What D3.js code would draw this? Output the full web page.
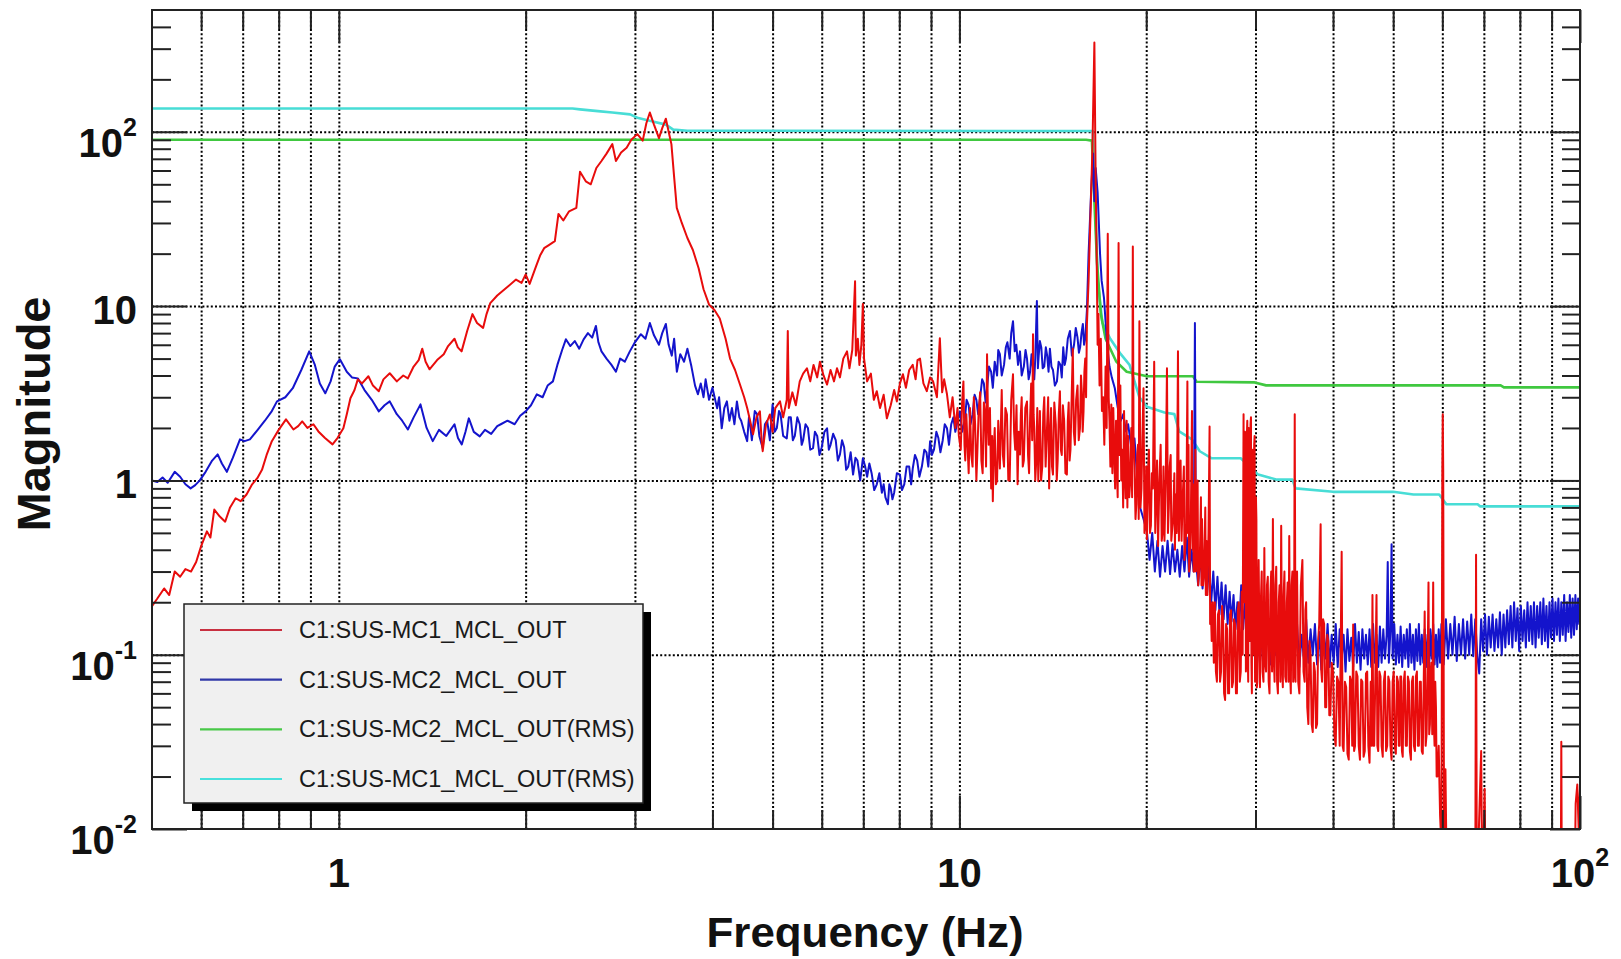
<!DOCTYPE html>
<html>
<head>
<meta charset="utf-8">
<script src="https://cdn.jsdelivr.net/npm/d3@7"></script>
<style>
body { margin: 0; background: #ffffff; }
svg { display: block; font-family: "Liberation Sans", Arial, Helvetica, sans-serif; }
</style>
</head>
<body>
<div id="chart"></div>
<script>
// values: [frequency (Hz), magnitude]
const mc1Out = [
    [0.5,0.19],[0.51,0.21],[0.523,0.24],[0.533,0.22],[0.544,0.3],[0.555,0.28],[0.566,0.31],[0.578,0.3],[0.589,0.34],
    [0.6,0.42],[0.613,0.51],[0.621,0.47],[0.63,0.68],[0.643,0.62],[0.656,0.58],[0.668,0.7],[0.682,0.79],[0.695,0.76],
    [0.71,0.83],[0.725,0.95],[0.739,1.03],[0.752,1.15],[0.765,1.4],[0.78,1.68],[0.8,1.95],[0.822,2.24],[0.845,1.96],
    [0.86,2.05],[0.873,2.18],[0.89,2.0],[0.91,2.1],[0.927,1.91],[0.95,1.75],[0.977,1.61],[0.995,1.75],[1.017,1.99],
    [1.03,2.4],[1.044,2.96],[1.06,3.3],[1.073,3.8],[1.09,3.6],[1.116,3.96],[1.135,3.5],[1.16,3.25],[1.18,3.8],
    [1.208,4.12],[1.24,3.7],[1.27,4.0],[1.292,3.85],[1.32,4.5],[1.345,4.9],[1.363,5.7],[1.38,4.8],[1.4,4.34],
    [1.44,4.9],[1.476,5.3],[1.5,5.9],[1.536,6.5],[1.555,5.8],[1.577,5.5],[1.61,7.2],[1.642,9.0],[1.67,8.0],
    [1.708,7.5],[1.73,9.0],[1.754,10.4],[1.8,11.5],[1.84,12.3],[1.875,13.0],[1.93,14.2],[1.97,13.6],[2.0,15.2],
    [2.03,13.4],[2.08,17.0],[2.11,19.5],[2.142,21.5],[2.18,22.4],[2.229,23.6],[2.259,33.8],[2.3,31],[2.35,35],
    [2.414,36.6],[2.447,59],[2.5,52],[2.547,50],[2.6,62],[2.65,68],[2.7,75],[2.759,85],[2.796,68],[2.85,76],
    [2.909,81],[2.96,90],[3.027,97],[3.088,89],[3.13,112],[3.171,129],[3.22,110],[3.28,92],[3.32,105],[3.365,119],
    [3.4,100],[3.435,85],[3.47,55],[3.504,36.6],[3.57,30],[3.645,24.6],[3.72,21],[3.8,16.5],[3.87,12.5],[3.95,10.2],
    [4.03,9.5],[4.11,8.5],[4.2,6.5],[4.27,5.0],[4.35,4.3],[4.43,3.55],[4.5,3.0],[4.55,2.6],[4.6,2.2],[4.65,1.84],
    [4.71,2.3],[4.77,2.49],[4.8,1.7],[4.82,1.47],[4.88,2.1],[4.95,2.39],[5.0,1.9],[5.05,2.6],[5.14,2.84],[5.2,2.3],
    [5.27,2.9],[5.29,7.2],[5.31,2.6],[5.38,3.2],[5.45,2.7],[5.53,3.7],[5.6,4.1],[5.68,4.4],[5.75,3.7],[5.82,4.6],
    [5.9,3.9],[5.96,4.8],[6.04,4.0],[6.12,3.55],[6.2,4.3],[6.28,3.7],[6.35,4.4],[6.42,3.9],[6.5,5.0],[6.59,5.5],
    [6.65,4.4],[6.72,5.6],[6.79,13.9],[6.81,5.2],[6.86,6.5],[6.9,4.6],[6.95,6.0],[6.99,10.3],[7.02,5.0],[7.1,3.7],
    [7.2,4.1],[7.28,2.9],[7.36,3.25],[7.45,2.6],[7.55,3.1],[7.64,2.27],[7.75,2.7],[7.85,3.3],[7.93,2.84],[8.02,3.6],
    [8.11,4.07],[8.2,3.4],[8.3,4.3],[8.41,4.6],[8.5,3.8],[8.56,4.9],[8.64,5.0],[8.75,3.6],[8.86,3.25],[8.97,3.9],
    [9.07,3.7],[9.2,3.0],[9.3,6.55],[9.38,3.2],[9.45,3.8],[9.55,3.12],[9.65,2.3],[9.75,3.0],[9.85,2.0],[9.93,2.6],
    [9.98,1.8],[10.05,1.5],[10.1,2.8],[10.15,3.7],[10.19,1.6],[10.22,1.3],[10.26,2.4],[10.3,1.68],[10.35,1.1],
    [10.4,2.6],[10.45,1.4],[10.5,1.2],[10.55,3.0],[10.6,2.1],[10.65,1.0],[10.69,1.47],[10.74,2.5],[10.8,3.2],
    [10.85,1.3],[10.9,1.1],[10.95,2.8],[11.0,2.4],[11.04,1.2],[11.08,5.3],[11.12,2.2],[11.15,1.6],[11.2,2.6],
    [11.25,0.9],[11.29,1.8],[11.32,0.76],[11.36,1.5],[11.4,2.0],[11.45,0.95],[11.5,1.0],[11.55,2.2],[11.62,1.17],
    [11.66,2.0],[11.7,3.3],[11.75,1.4],[11.8,1.2],[11.86,2.6],[11.93,2.39],[11.99,1.0],[12.05,1.0],[12.12,2.9],
    [12.2,4.07],[12.25,1.9],[12.3,1.5],[12.36,2.7],[12.41,0.95],[12.46,1.9],[12.52,1.41],[12.56,2.4],[12.6,3.0],
    [12.65,1.2],[12.7,1.3],[12.77,2.6],[12.85,2.84],[12.9,1.4],[12.95,1.1],[13.0,2.3],[13.05,3.6],[13.1,1.7],
    [13.14,6.9],[13.17,2.4],[13.2,2.0],[13.25,1.0],[13.3,1.3],[13.35,2.6],[13.4,0.99],[13.44,1.6],[13.48,2.5],
    [13.54,1.0],[13.6,1.2],[13.65,2.4],[13.7,3.0],[13.77,1.2],[13.84,1.99],[13.9,3.0],[13.95,0.9],[14.0,1.8],
    [14.05,2.6],[14.1,1.2],[14.15,1.08],[14.22,2.8],[14.3,2.1],[14.35,1.0],[14.4,1.3],[14.46,2.4],[14.52,3.25],
    [14.57,1.5],[14.62,1.4],[14.68,2.7],[14.75,2.2],[14.82,1.1],[14.9,1.08],[14.95,2.2],[15.0,2.8],[15.05,1.3],
    [15.1,1.5],[15.17,3.1],[15.23,5.7],[15.29,1.9],[15.35,1.6],[15.42,2.9],[15.5,3.5],[15.57,1.7],[15.64,1.99],
    [15.7,4.0],[15.75,3.2],[15.8,1.9],[15.85,2.5],[15.9,4.2],[15.95,5.0],[16.0,3.0],[16.05,7.9],[16.15,14],
    [16.25,30],[16.38,80],[16.5,325],[16.58,52],[16.64,20],[16.7,6],[16.75,9],[16.82,3.5],[16.9,6.5],[16.97,2.5],
    [17.05,3.0],[17.12,1.6],[17.2,4.5],[17.27,2.0],[17.34,26],[17.4,3.0],[17.45,2.2],[17.51,1.2],[17.57,2.73],
    [17.64,1.1],[17.7,2.6],[17.75,1.6],[17.82,0.9],[17.88,2.2],[17.93,1.24],[17.99,0.8],[18.05,23],[18.1,1.4],
    [18.17,3.5],[18.23,1.0],[18.3,1.5],[18.36,0.7],[18.42,2.5],[18.48,1.1],[18.53,0.79],[18.6,2.2],[18.65,0.7],
    [18.7,1.8],[18.78,0.8],[18.85,1.0],[18.92,2.0],[18.98,0.8],[19.03,22],[19.08,1.8],[19.15,1.2],[19.22,0.6],
    [19.28,0.73],[19.34,1.4],[19.4,1.6],[19.45,0.6],[19.5,8.2],[19.58,0.7],[19.65,0.9],[19.72,1.8],[19.8,3.38],
    [19.87,0.5],[19.95,0.6],[20.0,1.2],[20.05,0.46],[20.15,1.2],[20.2,1.5],[20.28,0.5],[20.35,0.55],[20.42,1.1],
    [20.5,0.9],[20.6,4.8],[20.68,0.5],[20.75,0.8],[20.82,1.3],[20.9,0.42],[21.0,1.0],[21.1,1.6],[21.18,0.45],
    [21.25,0.5],[21.32,1.2],[21.4,0.45],[21.5,1.0],[21.6,4.4],[21.68,0.5],[21.75,0.7],[21.82,1.2],[21.9,1.4],
    [21.95,0.45],[22.0,0.5],[22.1,0.6],[22.2,1.1],[22.25,0.4],[22.3,0.83],[22.4,0.5],[22.5,5.5],[22.58,0.45],
    [22.65,0.9],[22.72,1.3],[22.8,0.45],[22.9,0.8],[23.0,1.2],[23.05,0.35],[23.1,0.4],[23.2,0.51],[23.3,3.7],
    [23.35,0.5],[23.4,1.6],[23.45,0.3],[23.5,0.35],[23.6,0.6],[23.7,2.5],[23.75,0.4],[23.8,0.95],[23.85,0.3],
    [23.9,0.3],[24.0,1.5],[24.05,0.3],[24.1,0.4],[24.2,1.0],[24.25,0.25],[24.3,0.28],[24.4,0.35],[24.5,0.8],
    [24.55,0.25],[24.6,0.6],[24.7,0.25],[24.8,0.3],[24.9,0.7],[24.95,0.22],[25.0,0.45],[25.1,0.22],[25.2,0.5],
    [25.3,2.04],[25.35,0.15],[25.4,0.2],[25.5,0.12],[25.6,0.2],[25.7,0.09],[25.8,0.2],[25.9,0.08],[26.0,0.07],
    [26.1,0.17],[26.2,0.18],[26.3,0.07],[26.4,0.08],[26.5,0.19],[26.6,0.16],[26.7,0.06],[26.8,0.055],[26.9,0.15],
    [27.0,0.14],[27.1,0.06],[27.2,0.06],[27.3,0.17],[27.4,0.18],[27.5,0.065],[27.6,0.07],[27.7,0.16],[27.8,0.15],
    [27.9,0.06],[28.0,0.06],[28.1,0.18],[28.2,0.2],[28.3,0.07],[28.4,0.08],[28.5,0.23],[28.6,0.1],[28.7,2.4],
    [28.75,0.2],[28.8,0.3],[28.85,1.9],[28.9,1.6],[28.95,0.08],[29.0,0.1],[29.05,1.8],[29.1,2.2],[29.15,0.1],
    [29.2,0.07],[29.25,2.0],[29.3,1.9],[29.35,0.12],[29.4,0.2],[29.45,2.1],[29.5,2.3],[29.55,0.09],[29.6,0.06],
    [29.65,1.5],[29.7,1.2],[29.75,0.1],[29.8,0.3],[29.85,1.6],[29.9,1.8],[29.95,0.07],[30.0,0.08],[30.05,0.8],
    [30.1,0.6],[30.15,0.065],[30.2,0.07],[30.35,0.35],[30.5,0.065],[30.6,0.2],[30.7,0.3],[30.8,0.08],[30.9,0.07],
    [31.0,0.41],[31.1,0.09],[31.2,0.08],[31.3,0.25],[31.4,0.28],[31.5,0.07],[31.6,0.06],[31.7,0.22],[31.8,0.3],
    [31.9,0.08],[32.0,0.6],[32.1,0.1],[32.2,0.07],[32.3,0.25],[32.4,0.32],[32.5,0.07],[32.6,0.06],[32.7,0.2],
    [32.8,0.25],[32.9,0.07],[33.0,0.55],[33.1,0.09],[33.2,0.065],[33.3,0.22],[33.4,0.3],[33.5,0.075],[33.6,0.07],
    [33.7,0.2],[33.8,0.26],[33.9,0.07],[34.0,0.48],[34.1,0.08],[34.2,0.06],[34.3,0.25],[34.4,0.3],[34.5,0.07],
    [34.6,0.08],[34.7,2.4],[34.8,0.07],[34.9,0.2],[35.0,0.3],[35.15,0.07],[35.3,0.06],[35.5,0.25],[35.7,0.35],
    [35.85,0.08],[36.0,0.07],[36.1,0.18],[36.2,0.2],[36.35,0.05],[36.5,0.04],[36.65,0.12],[36.8,0.1],[36.95,0.04],
    [37.1,0.036],[37.25,0.09],[37.4,0.08],[37.55,0.038],[37.7,0.04],[37.85,0.12],[38.0,0.15],[38.2,0.56],[38.3,0.08],
    [38.4,0.07],[38.55,0.16],[38.7,0.15],[38.85,0.05],[39.0,0.05],[39.15,0.13],[39.3,0.12],[39.45,0.045],[39.6,0.045],
    [39.8,0.09],[40.0,0.08],[40.2,0.035],[40.4,0.03],[40.6,0.075],[40.8,0.07],[41.0,0.03],[41.3,0.39],[41.45,0.03],
    [41.6,0.028],[41.8,0.07],[42.0,0.065],[42.2,0.027],[42.4,0.025],[42.6,0.075],[42.8,0.07],[42.95,0.03],[43.1,0.149],
    [43.25,0.028],[43.4,0.03],[43.6,0.08],[43.8,0.075],[44.0,0.03],[44.2,0.025],[44.4,0.072],[44.6,0.07],[44.8,0.026],
    [45.0,0.028],[45.2,0.078],[45.4,0.08],[45.6,0.03],[45.8,0.024],[46.0,0.07],[46.15,0.03],[46.3,0.22],[46.45,0.03],
    [46.6,0.03],[46.8,0.075],[47.0,0.22],[47.15,0.03],[47.3,0.028],[47.5,0.08],[47.7,0.075],[47.9,0.03],[48.1,0.026],
    [48.3,0.07],[48.5,0.08],[48.7,0.028],[48.9,0.03],[49.1,0.075],[49.3,0.07],[49.5,0.03],[49.7,0.025],[49.9,0.07],
    [50.1,0.08],[50.3,0.03],[50.5,0.027],[50.7,0.075],[50.9,0.07],[51.05,0.03],[51.2,0.03],[51.35,0.075],[51.5,0.075],
    [51.65,0.028],[51.8,0.026],[52.0,0.07],[52.2,0.08],[52.4,0.03],[52.6,0.03],[52.8,0.075],[53.0,0.07],[53.2,0.028],
    [53.4,0.025],[53.6,0.07],[53.8,0.075],[54.0,0.03],[54.2,0.028],[54.4,0.075],[54.6,0.08],[54.8,0.03],[55.0,0.03],
    [55.2,0.07],[55.4,0.07],[55.6,0.028],[55.8,0.027],[56.0,0.07],[56.2,0.177],[56.4,0.03],[56.6,0.035],[56.8,0.08],
    [57.0,0.26],[57.15,0.035],[57.3,0.04],[57.45,0.08],[57.6,0.09],[57.8,0.035],[58.0,0.26],[58.15,0.04],[58.3,0.03],
    [58.45,0.07],[58.6,0.05],[58.75,0.02],[58.9,0.02],[59.2,0.03],[59.5,0.012],[59.8,0.008],[60.0,1.16],[60.1,2.4],
    [60.2,1.16],[60.4,0.006],[60.7,0.022],[61.0,0.005],[67.8,0.004],[68.0,0.375],[68.2,0.004],[69.3,0.028],
    [69.6,0.004],[70.2,0.017],[70.5,0.004],[93.1,0.004],[93.3,0.0317],[93.5,0.004],[98.0,0.004],[98.4,0.014],
    [99.0,0.018],[99.5,0.01],[100,0.017]
];

const mc2Out = [
    [0.5,1.0],[0.51,0.98],[0.52,1.04],[0.53,0.97],[0.544,1.12],[0.555,1.05],[0.566,0.95],[0.577,0.9],[0.587,0.94],
    [0.597,1.0],[0.61,1.12],[0.625,1.3],[0.638,1.41],[0.648,1.25],[0.66,1.12],[0.675,1.35],[0.693,1.72],[0.705,1.68],
    [0.719,1.72],[0.74,1.95],[0.76,2.2],[0.78,2.5],[0.795,2.84],[0.82,3.0],[0.843,3.38],[0.87,4.3],[0.896,5.5],
    [0.915,4.6],[0.932,3.6],[0.951,3.16],[0.97,3.7],[0.985,4.5],[1.004,4.96],[1.03,4.2],[1.05,3.9],[1.073,3.85],
    [1.1,3.3],[1.13,2.9],[1.16,2.49],[1.185,2.7],[1.208,2.84],[1.24,2.4],[1.265,2.2],[1.292,1.96],[1.32,2.3],
    [1.354,2.73],[1.385,2.0],[1.417,1.68],[1.45,1.95],[1.49,1.8],[1.536,2.1],[1.556,1.75],[1.578,1.61],[1.6,1.9],
    [1.62,2.27],[1.65,1.9],[1.687,1.79],[1.72,1.95],[1.76,1.85],[1.8,2.05],[1.824,2.1],[1.87,2.2],[1.92,2.1],
    [1.96,2.35],[2.0,2.49],[2.04,2.7],[2.085,3.12],[2.13,3.0],[2.17,3.5],[2.213,3.7],[2.25,4.6],[2.29,5.6],
    [2.322,6.45],[2.36,5.9],[2.4,6.3],[2.44,5.7],[2.48,6.45],[2.52,7.0],[2.56,6.6],[2.596,7.7],[2.62,6.2],
    [2.65,5.5],[2.7,5.0],[2.75,4.6],[2.796,4.2],[2.84,5.0],[2.89,4.8],[2.944,5.5],[3.0,6.2],[3.067,6.9],[3.12,6.5],
    [3.171,8.0],[3.22,6.8],[3.28,6.0],[3.32,7.0],[3.365,7.9],[3.4,6.0],[3.44,5.2],[3.47,6.5],[3.505,4.2],[3.55,5.3],
    [3.6,4.8],[3.645,5.7],[3.7,4.5],[3.75,3.5],[3.79,3.12],[3.83,3.6],[3.87,3.0],[3.9,3.8],[3.95,2.9],[4.0,3.4],
    [4.07,2.59],[4.1,3.0],[4.14,1.99],[4.18,2.6],[4.22,2.84],[4.26,2.2],[4.3,2.6],[4.34,2.1],[4.38,2.84],[4.42,2.3],
    [4.45,2.2],[4.5,1.9],[4.55,1.68],[4.58,2.3],[4.6,2.1],[4.63,1.7],[4.65,1.99],[4.68,2.5],[4.72,2.4],[4.76,1.8],
    [4.82,1.53],[4.86,2.1],[4.9,2.2],[4.95,1.7],[5.0,2.73],[5.04,1.9],[5.08,2.0],[5.12,2.5],[5.15,2.4],[5.2,1.8],
    [5.27,1.74],[5.31,2.3],[5.35,2.3],[5.39,1.7],[5.43,1.8],[5.48,2.3],[5.53,2.1],[5.57,1.6],[5.6,1.7],[5.65,2.1],
    [5.7,2.0],[5.75,1.5],[5.81,1.53],[5.85,1.9],[5.9,1.8],[5.95,1.4],[6.0,1.55],[6.06,1.9],[6.12,1.99],[6.16,1.5],
    [6.2,1.6],[6.26,1.85],[6.32,1.7],[6.37,1.3],[6.42,1.41],[6.47,1.7],[6.52,1.55],[6.57,1.15],[6.62,1.2],[6.68,1.45],
    [6.74,1.08],[6.8,1.35],[6.85,1.3],[6.92,1.0],[6.99,1.34],[7.05,1.2],[7.1,1.05],[7.16,1.25],[7.22,1.1],[7.29,0.88],
    [7.36,0.95],[7.43,1.1],[7.5,0.85],[7.55,0.95],[7.6,0.8],[7.67,0.73],[7.71,0.95],[7.75,0.9],[7.8,0.78],[7.85,0.85],
    [7.93,1.1],[8.02,1.08],[8.08,0.88],[8.15,0.95],[8.22,1.2],[8.3,1.2],[8.36,0.95],[8.41,1.17],[8.48,1.4],[8.55,1.3],
    [8.62,1.05],[8.7,1.2],[8.78,1.5],[8.85,1.45],[8.91,1.2],[8.97,1.68],[9.03,1.4],[9.1,1.5],[9.18,1.9],[9.25,1.75],
    [9.32,1.45],[9.4,1.7],[9.47,2.1],[9.55,1.99],[9.62,1.6],[9.7,2.1],[9.78,2.3],[9.85,1.9],[9.93,2.2],[10.02,2.49],
    [10.1,1.9],[10.2,2.2],[10.27,2.9],[10.35,2.7],[10.42,2.1],[10.5,2.39],[10.58,3.1],[10.65,2.9],[10.72,2.4],
    [10.8,3.0],[10.88,3.8],[10.95,3.6],[11.02,2.8],[11.08,3.38],[11.16,4.5],[11.25,4.2],[11.32,3.4],[11.4,4.8],
    [11.5,4.0],[11.55,5.6],[11.62,5.3],[11.7,4.0],[11.8,4.6],[11.88,5.8],[11.95,6.2],[12.05,5.0],[12.12,7.0],
    [12.2,8.2],[12.28,5.5],[12.35,6.0],[12.43,4.6],[12.52,5.5],[12.6,4.0],[12.7,4.5],[12.78,5.6],[12.85,5.0],
    [12.93,3.8],[13.0,4.2],[13.07,5.3],[13.14,4.4],[13.2,3.8],[13.25,5.0],[13.33,10.7],[13.38,4.4],[13.42,5.2],
    [13.48,6.3],[13.55,5.8],[13.62,4.4],[13.7,4.5],[13.78,5.8],[13.85,5.2],[13.92,4.2],[13.99,5.7],[14.07,4.5],
    [14.15,4.3],[14.25,3.5],[14.36,3.7],[14.45,4.8],[14.55,4.6],[14.62,3.9],[14.7,5.8],[14.78,4.6],[14.85,5.0],
    [14.95,6.5],[15.07,7.2],[15.18,5.2],[15.3,6.0],[15.4,7.5],[15.5,6.6],[15.58,5.4],[15.65,5.8],[15.73,7.0],
    [15.81,7.9],[15.88,6.0],[15.95,6.5],[16.05,9.5],[16.15,20],[16.3,45],[16.42,75],[16.5,40],[16.58,62],
    [16.7,45],[16.85,20],[16.95,14],[17.1,11.1],[17.3,6.0],[17.45,4.5],[17.6,3.9],[17.8,3.38],[18.0,2.6],
    [18.2,2.2],[18.37,2.4],[18.55,1.91],[18.7,2.1],[18.9,1.6],[19.15,1.74],[19.35,1.0],[19.55,0.7],[19.8,0.6],
    [20.05,0.51],[20.25,0.35],[20.45,0.5],[20.65,0.3],[20.85,0.45],[21.05,0.28],[21.25,0.42],[21.45,0.3],
    [21.65,0.45],[21.85,0.29],[22.05,0.43],[22.25,0.3],[22.45,0.4],[22.65,0.28],[22.85,0.42],[23.05,0.3],
    [23.25,0.47],[23.45,0.28],[23.65,0.4],[23.85,0.3],[23.96,8.0],[24.05,0.35],[24.25,0.25],[24.45,0.38],
    [24.65,0.24],[24.85,0.35],[25.05,0.22],[25.25,0.32],[25.45,0.2],[25.65,0.3],[25.85,0.18],[26.05,0.28],
    [26.25,0.17],[26.45,0.26],[26.65,0.16],[26.85,0.25],[27.05,0.15],[27.25,0.23],[27.45,0.155],[27.65,0.22],
    [27.85,0.14],[28.05,0.2],[28.25,0.15],[28.45,0.25],[28.65,0.14],[28.85,0.2],[29.05,0.13],[29.25,0.19],
    [29.45,0.12],[29.65,0.18],[29.85,0.11],[30.05,0.16],[30.2,0.17],[30.5,0.09],[30.8,0.15],[31.1,0.1],
    [31.4,0.16],[31.7,0.088],[32.0,0.14],[32.3,0.1],[32.6,0.155],[32.9,0.092],[33.2,0.13],[33.5,0.098],[33.8,0.17],
    [34.1,0.09],[34.4,0.145],[34.7,0.1],[35.0,0.15],[35.3,0.085],[35.6,0.13],[35.9,0.095],[36.2,0.16],[36.5,0.09],
    [36.8,0.14],[37.1,0.1],[37.4,0.15],[37.7,0.088],[38.0,0.135],[38.3,0.082],[38.6,0.14],[38.9,0.095],[39.2,0.15],
    [39.5,0.085],[39.8,0.13],[40.1,0.09],[40.4,0.15],[40.7,0.085],[41.0,0.14],[41.3,0.095],[41.6,0.13],[41.9,0.08],
    [42.2,0.14],[42.5,0.092],[42.8,0.125],[43.1,0.085],[43.4,0.15],[43.7,0.09],[44.0,0.135],[44.3,0.082],[44.6,0.14],
    [44.9,0.095],[45.2,0.13],[45.5,0.088],[45.8,0.14],[46.1,0.085],[46.4,0.15],[46.7,0.09],[47.0,0.13],[47.3,0.085],
    [47.6,0.145],[47.9,0.09],[48.2,0.14],[48.5,0.095],[48.8,0.13],[49.0,0.34],[49.2,0.09],[49.5,0.14],[49.7,0.43],
    [49.9,0.095],[50.2,0.15],[50.5,0.088],[50.8,0.13],[51.1,0.09],[51.4,0.145],[51.7,0.085],[52.0,0.13],[52.3,0.095],
    [52.6,0.14],[52.9,0.085],[53.2,0.15],[53.5,0.09],[53.8,0.13],[54.1,0.082],[54.4,0.14],[54.7,0.092],[55.0,0.15],
    [55.3,0.088],[55.6,0.13],[55.9,0.09],[56.2,0.14],[56.5,0.085],[56.8,0.13],[57.1,0.08],[57.4,0.14],[57.7,0.095],
    [58.0,0.15],[58.3,0.088],[58.6,0.13],[58.9,0.085],[59.2,0.14],[59.5,0.09],[59.8,0.15],[60.3,0.088],[60.8,0.16],
    [61.3,0.095],[61.8,0.15],[62.3,0.1],[62.8,0.165],[63.3,0.092],[63.8,0.15],[64.3,0.1],[64.8,0.16],[65.3,0.095],
    [65.8,0.155],[66.3,0.1],[66.8,0.17],[67.3,0.098],[67.8,0.16],[68.3,0.1],[68.8,0.078],[69.3,0.16],[69.8,0.105],
    [70.3,0.17],[70.8,0.1],[71.3,0.165],[71.8,0.11],[72.3,0.17],[72.8,0.105],[73.3,0.16],[73.8,0.11],[74.3,0.175],
    [74.8,0.1],[75.3,0.17],[75.8,0.11],[76.3,0.18],[76.8,0.115],[77.3,0.19],[77.8,0.11],[78.3,0.2],[78.8,0.12],
    [79.3,0.185],[79.8,0.105],[80.3,0.19],[80.8,0.12],[81.3,0.18],[81.8,0.11],[82.3,0.2],[82.8,0.12],[83.3,0.19],
    [83.8,0.115],[84.3,0.2],[84.8,0.11],[85.3,0.19],[85.8,0.125],[86.3,0.2],[86.8,0.115],[87.3,0.21],[87.8,0.12],
    [88.3,0.19],[88.8,0.11],[89.3,0.2],[89.8,0.125],[90.3,0.21],[90.8,0.12],[91.3,0.2],[91.8,0.13],[92.3,0.21],
    [92.8,0.12],[93.3,0.2],[93.8,0.13],[94.3,0.22],[94.8,0.12],[95.3,0.2],[95.8,0.135],[96.3,0.22],[96.8,0.125],
    [97.3,0.21],[97.8,0.13],[98.3,0.22],[98.8,0.14],[99.3,0.21],[99.7,0.15],[100,0.19]
];

const mc2Rms = [
    [0.5,90],[16.0,90],[16.35,89],[16.5,40],[16.66,18],[16.9,9],[17.2,6.5],[17.9,4.8],[18.6,4.2],[20.05,3.96],
    [23.8,3.96],[24.1,3.68],[29.9,3.65],[31.2,3.51],[74.5,3.51],[75.4,3.42],[100,3.42]
];

const mc1Rms = [
    [0.5,136],[2.38,136],[2.447,134.6],[2.615,131.5],[2.759,129],[2.948,126],[3.027,120.5],[3.193,115],[3.365,110],
    [3.458,103],[3.645,101.5],[16.4,101],[16.5,60],[16.7,14],[17.0,8],[17.5,6.5],[18.2,5.3],[18.8,4.6],
    [19.5,3.0],[20.05,2.65],[21.4,2.45],[22.2,2.4],[22.6,1.91],[23.7,1.72],[24.4,1.47],[25.5,1.34],[28.4,1.34],
    [30.3,1.08],[32.5,1.01],[34.4,1.01],[34.8,0.9],[40,0.86],[50,0.86],[53.9,0.83],[59.3,0.83],[60.9,0.73],
    [68.4,0.73],[69,0.71],[100,0.71]
];

const legendLabels = ["C1:SUS-MC1_MCL_OUT", "C1:SUS-MC2_MCL_OUT", "C1:SUS-MC2_MCL_OUT(RMS)", "C1:SUS-MC1_MCL_OUT(RMS)"];

const xMajorTicks = [1, 10, 100];
const xMinorTicks = [0.6, 0.7, 0.8, 0.9, 2, 3, 4, 5, 6, 7, 8, 9, 20, 30, 40, 50, 60, 70, 80, 90];
const xTickLabels = [["1", ""], ["10", ""], ["10", "2"]];
const yMajorTicks = [100, 10, 1, 0.1, 0.01];
const yMinorTicks = [0.02, 0.03, 0.04, 0.05, 0.06, 0.07, 0.08, 0.09, 0.2, 0.3, 0.4, 0.5, 0.6, 0.7, 0.8, 0.9,
    2, 3, 4, 5, 6, 7, 8, 9, 20, 30, 40, 50, 60, 70, 80, 90, 200, 300, 400];
const yTickLabels = [["10", "2"], ["10", ""], ["1", ""], ["10", "-1"], ["10", "-2"]];

function main() {
    let width = 1621;
    let height = 959;
    let left = 152, right = 1580, top = 10, bottom = 829;

    let svg = d3.select("#chart").append("svg")
        .attr("width", width)
        .attr("height", height);

    let xScale = d3.scaleLog().domain([0.5, 100]).range([left, right]);
    let yScale = d3.scaleLog().domain([0.01, 500]).range([bottom, top]);

    // dotted grid
    let gridX = svg.append("g")
        .attr("transform", "translate(0," + bottom + ")")
        .call(d3.axisBottom(xScale).tickValues(xMinorTicks.concat([1, 10])).tickSize(-(bottom - top)).tickFormat(""));
    let gridY = svg.append("g")
        .attr("transform", "translate(" + left + ",0)")
        .call(d3.axisLeft(yScale).tickValues([100, 10, 1, 0.1]).tickSize(-(right - left)).tickFormat(""));
    [gridX, gridY].forEach(function(g) {
        g.select(".domain").remove();
        g.selectAll("line")
            .attr("stroke", "#000")
            .attr("stroke-width", 2)
            .attr("stroke-dasharray", "2,2.2");
    });

    svg.append("clipPath").attr("id", "plotclip")
        .append("rect")
        .attr("x", left).attr("y", top)
        .attr("width", right - left).attr("height", bottom - top);

    let line = d3.line()
        .x(function(d) { return xScale(d[0]); })
        .y(function(d) { return yScale(d[1]); });

    let series = [
        {data: mc1Rms, color: "#48ddd6", w: 2.6},
        {data: mc2Rms, color: "#40c840", w: 2.6},
        {data: mc2Out, color: "#1414cc", w: 2},
        {data: mc1Out, color: "#e80c0c", w: 2}
    ];
    let plot = svg.append("g").attr("clip-path", "url(#plotclip)");
    series.forEach(function(s) {
        plot.append("path")
            .datum(s.data)
            .attr("d", line)
            .attr("fill", "none")
            .attr("stroke", s.color)
            .attr("stroke-width", s.w)
            .attr("stroke-linejoin", "round");
    });

    // ticks on all four sides
    function tickStyle(g) {
        g.select(".domain").remove();
        g.selectAll("line").attr("stroke", "#222").attr("stroke-width", 2);
    }
    svg.append("g").attr("transform", "translate(0," + bottom + ")")
        .call(d3.axisBottom(xScale).tickValues(xMinorTicks).tickSize(-19).tickFormat("")).call(tickStyle);
    svg.append("g").attr("transform", "translate(0," + bottom + ")")
        .call(d3.axisBottom(xScale).tickValues(xMajorTicks).tickSize(-33).tickFormat("")).call(tickStyle);
    svg.append("g").attr("transform", "translate(0," + top + ")")
        .call(d3.axisTop(xScale).tickValues(xMinorTicks).tickSize(-19).tickFormat("")).call(tickStyle);
    svg.append("g").attr("transform", "translate(0," + top + ")")
        .call(d3.axisTop(xScale).tickValues(xMajorTicks).tickSize(-33).tickFormat("")).call(tickStyle);
    svg.append("g").attr("transform", "translate(" + left + ",0)")
        .call(d3.axisLeft(yScale).tickValues(yMinorTicks).tickSize(-19).tickFormat("")).call(tickStyle);
    svg.append("g").attr("transform", "translate(" + left + ",0)")
        .call(d3.axisLeft(yScale).tickValues(yMajorTicks).tickSize(-35).tickFormat("")).call(tickStyle);
    svg.append("g").attr("transform", "translate(" + right + ",0)")
        .call(d3.axisRight(yScale).tickValues(yMinorTicks).tickSize(-18).tickFormat("")).call(tickStyle);
    svg.append("g").attr("transform", "translate(" + right + ",0)")
        .call(d3.axisRight(yScale).tickValues(yMajorTicks).tickSize(-30).tickFormat("")).call(tickStyle);

    svg.append("rect")
        .attr("x", left).attr("y", top)
        .attr("width", right - left).attr("height", bottom - top)
        .attr("fill", "none")
        .attr("stroke", "#222")
        .attr("stroke-width", 2);

    // tick labels with superscript powers
    function powerLabel(x, y, anchor, base, exp) {
        let t = svg.append("text")
            .attr("x", x).attr("y", y)
            .attr("text-anchor", anchor)
            .attr("font-size", 40)
            .attr("font-weight", "bold")
            .attr("fill", "#111");
        t.append("tspan").text(base);
        if (exp) {
            t.append("tspan").attr("font-size", 25).attr("dy", -21).text(exp);
        }
    }
    yMajorTicks.forEach(function(v, i) {
        let lab = yTickLabels[i];
        powerLabel(137, yScale(v) + (lab[1] ? 25 : 18), "end", lab[0], lab[1]);
    });
    xMajorTicks.forEach(function(v, i) {
        let lab = xTickLabels[i];
        powerLabel(xScale(v), 887, "middle", lab[0], lab[1]);
    });

    svg.append("text")
        .attr("x", 865).attr("y", 947)
        .attr("text-anchor", "middle")
        .attr("font-size", 42)
        .attr("font-weight", "bold")
        .attr("fill", "#111")
        .attr("textLength", 317)
        .attr("lengthAdjust", "spacingAndGlyphs")
        .text("Frequency (Hz)");

    svg.append("text")
        .attr("transform", "translate(50, 414) rotate(-90)")
        .attr("text-anchor", "middle")
        .attr("font-size", 47)
        .attr("font-weight", "bold")
        .attr("fill", "#111")
        .text("Magnitude");

    // legend
    let lg = svg.append("g");
    lg.append("rect")
        .attr("x", 192).attr("y", 612)
        .attr("width", 459).attr("height", 199)
        .attr("fill", "#000");
    lg.append("rect")
        .attr("x", 184).attr("y", 604)
        .attr("width", 459).attr("height", 199)
        .attr("fill", "#f0f0f0")
        .attr("stroke", "#222")
        .attr("stroke-width", 1.5);
    let legendColors = ["#c83040", "#3038a8", "#48c848", "#48e0dc"];
    let rowY = d3.scalePoint().domain(legendLabels).range([630, 779]);
    legendLabels.forEach(function(name, i) {
        lg.append("line")
            .attr("x1", 200).attr("x2", 282)
            .attr("y1", rowY(name)).attr("y2", rowY(name))
            .attr("stroke", legendColors[i])
            .attr("stroke-width", 2.2);
        lg.append("text")
            .attr("x", 299).attr("y", rowY(name) + 8)
            .attr("font-size", 23.5)
            .attr("fill", "#1a1a1a")
            .text(name);
    });
}

main();
</script>
</body>
</html>
